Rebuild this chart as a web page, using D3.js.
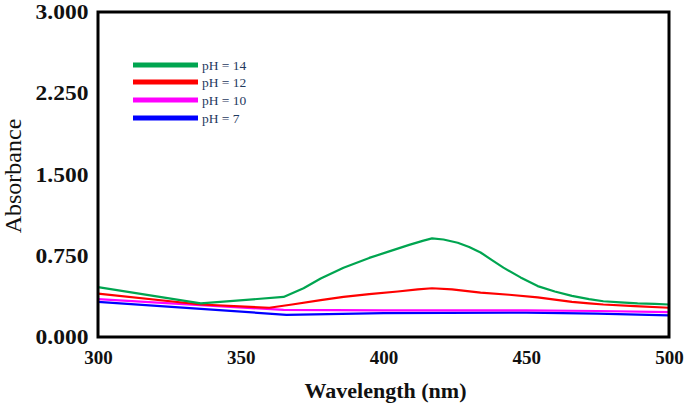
<!DOCTYPE html>
<html>
<head>
<meta charset="utf-8">
<script src="https://cdn.jsdelivr.net/npm/d3@7"></script>
<style>
html,body{margin:0;padding:0;background:#fff;}
svg{display:block;}
svg text{font-family:'Liberation Serif','Times New Roman',Times,serif;}
</style>
</head>
<body>
<svg id="chart" width="685" height="406"></svg>
<script>
// ---- data ----
const xTicks = [300, 350, 400, 450, 500];
const yTicks = [0, 0.75, 1.5, 2.25, 3.0];
const seriesNames = ["pH = 14", "pH = 12", "pH = 10", "pH = 7"];
const seriesColors = ["#00a550", "#ff0000", "#ff00ff", "#0000ff"];

const wlPH14 = [300, 336, 365, 372, 378, 386, 395, 402, 409, 414, 417, 421, 426, 430, 434, 438, 442, 448, 454, 460, 466, 472, 477, 483, 489, 495, 500];
const absPH14 = [0.46, 0.31, 0.37, 0.45, 0.54, 0.64, 0.73, 0.79, 0.85, 0.89, 0.91, 0.90, 0.87, 0.83, 0.78, 0.71, 0.64, 0.55, 0.47, 0.42, 0.38, 0.35, 0.33, 0.32, 0.31, 0.305, 0.30];

const wlPH12 = [300, 336, 360, 368, 378, 386, 395, 405, 412, 417, 424, 434, 444, 454, 460, 466, 472, 477, 488, 500];
const absPH12 = [0.40, 0.30, 0.27, 0.30, 0.34, 0.37, 0.395, 0.42, 0.44, 0.45, 0.44, 0.41, 0.39, 0.365, 0.345, 0.325, 0.31, 0.30, 0.285, 0.27];

const wlPH10 = [300, 365, 400, 450, 475, 500];
const absPH10 = [0.35, 0.25, 0.245, 0.245, 0.24, 0.23];

const wlPH7 = [300, 366, 400, 450, 475, 500];
const absPH7 = [0.325, 0.205, 0.22, 0.225, 0.215, 0.20];

const series = [
  {name: seriesNames[0], color: seriesColors[0], x: wlPH14, y: absPH14},
  {name: seriesNames[1], color: seriesColors[1], x: wlPH12, y: absPH12},
  {name: seriesNames[2], color: seriesColors[2], x: wlPH10, y: absPH10},
  {name: seriesNames[3], color: seriesColors[3], x: wlPH7, y: absPH7}
];

// ---- layout ----
const plotL = 98, plotR = 669, plotT = 12, plotB = 337;
const svg = d3.select("#chart");
const x = d3.scaleLinear().domain([300, 500]).range([plotL, plotR]);
const y = d3.scaleLinear().domain([0, 3]).range([plotB, plotT]);

// lines (draw in reverse so green sits on top)
const line = d3.line().x(d => x(d[0])).y(d => y(d[1]));
series.slice().reverse().forEach(s => {
  svg.append("path")
    .datum(s.x.map((v, i) => [v, s.y[i]]))
    .attr("fill", "none")
    .attr("stroke", s.color)
    .attr("stroke-width", 2.2)
    .attr("stroke-linejoin", "round")
    .attr("d", line);
});

// frame
svg.append("rect")
  .attr("x", plotL).attr("y", plotT)
  .attr("width", plotR - plotL).attr("height", plotB - plotT)
  .attr("fill", "none").attr("stroke", "#000").attr("stroke-width", 3);

// axes (labels only, no tick marks)
const xAxis = svg.append("g")
  .attr("transform", `translate(0,${plotB})`)
  .call(d3.axisBottom(x).tickValues(xTicks).tickSize(0).tickPadding(14).tickFormat(d3.format("d")));
xAxis.select(".domain").remove();
xAxis.selectAll("text")
  .style("font-family", "'Liberation Serif','Times New Roman',Times,serif")
  .attr("font-weight", "bold").attr("font-size", 19).attr("fill", "#111");

const yAxis = svg.append("g")
  .attr("transform", `translate(${plotL},0)`)
  .call(d3.axisLeft(y).tickValues(yTicks).tickSize(0).tickPadding(9).tickFormat(d3.format(".3f")));
yAxis.select(".domain").remove();
yAxis.selectAll("text")
  .style("font-family", "'Liberation Serif','Times New Roman',Times,serif")
  .attr("font-weight", "bold").attr("font-size", 21).attr("fill", "#111")
  .attr("x", -9.5 / 1.12)
  .attr("transform", "scale(1.12,1)");

// axis titles
svg.append("text")
  .attr("x", (plotL + plotR) / 2 + 2).attr("y", 398)
  .attr("text-anchor", "middle")
  .attr("font-weight", "bold").attr("font-size", 22).attr("fill", "#111")
  .text("Wavelength (nm)");

svg.append("text")
  .attr("transform", `translate(21,176) rotate(-90)`)
  .attr("text-anchor", "middle")
  .attr("font-size", 24).attr("fill", "#111")
  .text("Absorbance");

// legend
const legendY = [65, 82, 100, 118];
series.forEach((s, i) => {
  svg.append("line")
    .attr("x1", 133).attr("x2", 198)
    .attr("y1", legendY[i]).attr("y2", legendY[i])
    .attr("stroke", s.color).attr("stroke-width", 5);
  svg.append("text")
    .attr("x", 202).attr("y", legendY[i] + 4.5)
    .attr("font-size", 13.5).attr("fill", "#1f3a5f")
    .text(s.name);
});
</script>
</body>
</html>
